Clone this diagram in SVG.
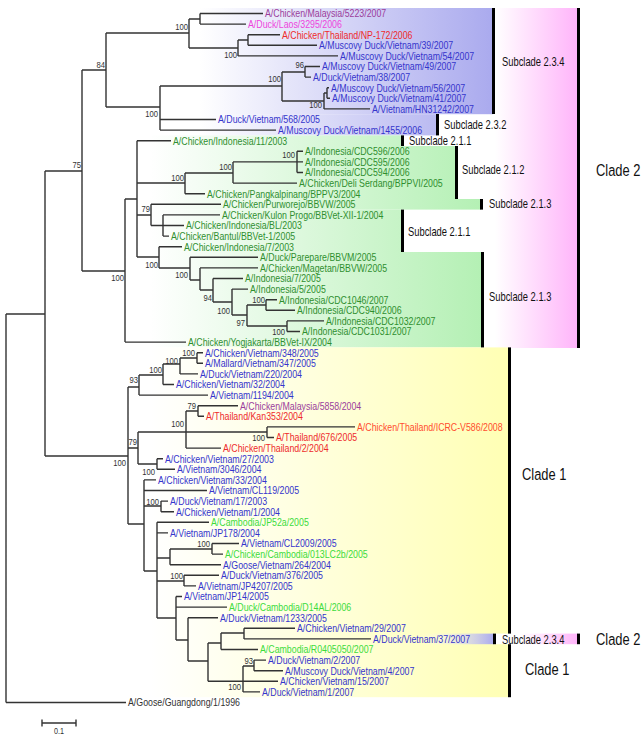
<svg xmlns="http://www.w3.org/2000/svg" width="642" height="736" viewBox="0 0 642 736">
<defs>
<linearGradient id="gBlue" gradientUnits="userSpaceOnUse" x1="200" y1="0" x2="493" y2="0"><stop offset="0" stop-color="#ffffff"/><stop offset="1" stop-color="#aaaaee"/></linearGradient>
<linearGradient id="gBlue2" gradientUnits="userSpaceOnUse" x1="420" y1="0" x2="494" y2="0"><stop offset="0" stop-color="#ffffff" stop-opacity="0"/><stop offset="1" stop-color="#aaaaee"/></linearGradient>
<linearGradient id="gGreen" gradientUnits="userSpaceOnUse" x1="150" y1="0" x2="482" y2="0"><stop offset="0" stop-color="#ffffff"/><stop offset="1" stop-color="#b4f0b4"/></linearGradient>
<linearGradient id="gYellow" gradientUnits="userSpaceOnUse" x1="150" y1="0" x2="508" y2="0"><stop offset="0" stop-color="#ffffff"/><stop offset="1" stop-color="#ffffb4"/></linearGradient>
<linearGradient id="gPink" gradientUnits="userSpaceOnUse" x1="495" y1="0" x2="578" y2="0"><stop offset="0" stop-color="#ffffff"/><stop offset="1" stop-color="#ffb4fa"/></linearGradient>
<linearGradient id="gPink2" gradientUnits="userSpaceOnUse" x1="520" y1="0" x2="578" y2="0"><stop offset="0" stop-color="#ffffff"/><stop offset="1" stop-color="#ffb4fa"/></linearGradient>
</defs>
<style>
text{font-family:"Liberation Sans",Arial,sans-serif}
.lf{font-size:11px}
.bs{font-size:9px;fill:#333;text-anchor:end}
.cl{font-size:12px;fill:#111}
.cb{font-size:17px;fill:#111}
.b{fill:#3535cc}.g{fill:#2f8f2f}.lg{fill:#3cdc3c}.r{fill:#ee2b2b}.o{fill:#ff4d2e}.p{fill:#9b3d9b}.m{fill:#ee44dd}.k{fill:#333}
.tree{fill:none;stroke:#333;stroke-width:1.4}
.bar{fill:#000}
</style>
<rect width="642" height="736" fill="#fff"/>
<g id="bands">
<rect x="495" y="8" width="83" height="340" fill="url(#gPink)"/>
<rect x="200" y="8" width="293" height="106.2" fill="url(#gBlue)"/>
<rect x="200" y="114.2" width="237" height="21.2" fill="url(#gBlue)"/>
<rect x="150" y="135.4" width="252" height="10.6" fill="url(#gGreen)"/>
<rect x="150" y="146" width="306" height="53" fill="url(#gGreen)"/>
<rect x="150" y="199" width="331" height="10.6" fill="url(#gGreen)"/>
<rect x="150" y="209.6" width="252" height="42.4" fill="url(#gGreen)"/>
<rect x="150" y="252" width="332" height="95.4" fill="url(#gGreen)"/>
<rect x="150" y="347.4" width="358" height="349.8" fill="url(#gYellow)"/>
<rect x="420" y="633.6" width="74" height="10.6" fill="url(#gBlue2)"/>
<rect x="493" y="633.6" width="34" height="10.6" fill="#fff"/>
<rect x="520" y="633.6" width="58" height="10.6" fill="url(#gPink2)"/>
<rect class="bar" x="492" y="8" width="3" height="106"/>
<rect class="bar" x="436" y="114" width="3" height="21.4"/>
<rect class="bar" x="401" y="135.4" width="3" height="10.6"/>
<rect class="bar" x="455" y="146" width="3" height="53"/>
<rect class="bar" x="480" y="199" width="3" height="10.6"/>
<rect class="bar" x="401" y="209.6" width="3" height="42.4"/>
<rect class="bar" x="481" y="252" width="3" height="95.4"/>
<rect class="bar" x="577" y="8" width="3" height="340"/>
<rect class="bar" x="508" y="347.4" width="3" height="286.2"/>
<rect class="bar" x="508" y="644.2" width="3" height="53"/>
<rect class="bar" x="493" y="633.6" width="3" height="10.6"/>
<rect class="bar" x="577" y="633.6" width="3" height="10.6"/>
<text class="cl" transform="translate(502,66) scale(.78,1)">Subclade 2.3.4</text>
<text class="cl" transform="translate(444,129) scale(.78,1)">Subclade 2.3.2</text>
<text class="cl" transform="translate(409,145) scale(.78,1)">Subclade 2.1.1</text>
<text class="cl" transform="translate(462,174) scale(.78,1)">Subclade 2.1.2</text>
<text class="cl" transform="translate(489,208) scale(.78,1)">Subclade 2.1.3</text>
<text class="cl" transform="translate(408,236) scale(.78,1)">Subclade 2.1.1</text>
<text class="cl" transform="translate(489,301) scale(.78,1)">Subclade 2.1.3</text>
<text class="cl" transform="translate(502,644) scale(.78,1)">Subclade 2.3.4</text>
<text class="cb" transform="translate(596,176) scale(.76,1)">Clade 2</text>
<text class="cb" transform="translate(522,480) scale(.76,1)">Clade 1</text>
<text class="cb" transform="translate(596,645) scale(.76,1)">Clade 2</text>
<text class="cb" transform="translate(525,675) scale(.76,1)">Clade 1</text>
</g>
<g id="connectors">
<path class="tree" d="M6,314V702.5M6,314H45M6,702.5H126
M45,171V456M45,171H82M45,456H128
M82,70V271M82,70H106M82,271H125
M106,33V107M106,33H189M106,107H160
M189,19V48M189,19H200M189,48H238
M200,13.5V24.1M200,13.5H263M200,24.1H246
M238,40V55.9M238,40H248M238,55.9H338
M248,34.7V45.3M248,34.7H280M248,45.3H317
M160,86V130.1M160,86H282M160,119.5H216M160,130.1H276
M282,72V101M282,72H305M282,101H324
M305,66.5V77.1M305,66.5H320M305,77.1H311
M324,93V108.9M324,93H327M324,108.9H370
M327,87.7V98.3M327,87.7H329M327,98.3H330
M125,199V342.1M125,199H137M125,342.1H186
M137,140.7V257M137,140.7H171M137,183H185M137,215H151M137,257H159
M185,173V193.7M185,173H233M185,193.7H205
M233,161.9V183.1M233,161.9H297M233,183.1H297
M297,151.3V172.5M297,151.3H303M297,161.9H303M297,172.5H303
M151,204.3V225.5M151,204.3H221M151,225.5H163
M163,214.9V236.1M163,214.9H220M163,225.5H184M163,236.1H169
M159,246.7V268M159,246.7H182M159,268H190
M190,257.3V280M190,257.3H258M190,280H200
M200,267.9V290M200,267.9H258M200,290H213
M213,278.5V302M213,278.5H243M213,302H232
M232,289.1V315M232,289.1H248M232,315H247
M247,305V326M247,305H266M247,326H287
M266,299.7V310.3M266,299.7H277M266,310.3H295
M287,320.9V331.5M287,320.9H324M287,331.5H300
M128,387V524M128,387H139M128,448H138M128,524H144
M139,375V395.1M139,375H163M139,395.1H208
M163,364V384.5M163,364H180M163,384.5H174
M180,358V373.9M180,358H197M180,373.9H198
M197,352.7V363.3M197,352.7H203M197,363.3H203
M138,432V464M138,432H186M138,464H157
M186,411V448.1M186,411H198M186,432H267M186,448.1H221
M198,405.7V416.3M198,405.7H238M198,416.3H204
M267,426.9V437.5M267,426.9H355M267,437.5H274
M157,458.7V469.3M157,458.7H163M157,469.3H175
M144,479.9V571M144,479.9H156M144,490.5H207M144,506H161M144,571H157
M161,501.1V511.7M161,501.1H168M161,511.7H174
M157,522.3V618M157,522.3H209M157,532.9H168M157,558H170M157,581H184M157,618H176
M170,549V564.7M170,549H212M170,564.7H221
M212,543.5V554.1M212,543.5H239M212,554.1H223
M184,575.3V585.9M184,575.3H219M184,585.9H196
M176,596.5V640M176,596.5H182M176,607.1H227M176,640H188
M188,617.7V661M188,617.7H218M188,661H208
M208,643V681.3M208,643H221M208,681.3H243
M221,633V649.5M221,633H244M221,649.5H258
M244,628.3V638.9M244,628.3H295M244,638.9H371
M243,666V691.9M243,666H254M243,681.3H278M243,691.9H260
M254,660.1V670.7M254,660.1H266M254,670.7H283"/>
</g>
<g id="support">
<text class="bs" transform="translate(188,30) scale(.85,1)">100</text>
<text class="bs" transform="translate(237,58) scale(.85,1)">100</text>
<text class="bs" transform="translate(304,68) scale(.85,1)">96</text>
<text class="bs" transform="translate(281,82) scale(.85,1)">100</text>
<text class="bs" transform="translate(322,107.5) scale(.85,1)">100</text>
<text class="bs" transform="translate(158,117) scale(.85,1)">100</text>
<text class="bs" transform="translate(105,68) scale(.85,1)">84</text>
<text class="bs" transform="translate(81,168) scale(.85,1)">75</text>
<text class="bs" transform="translate(295,158) scale(.85,1)">100</text>
<text class="bs" transform="translate(232,170) scale(.85,1)">100</text>
<text class="bs" transform="translate(184,181) scale(.85,1)">100</text>
<text class="bs" transform="translate(150,212) scale(.85,1)">79</text>
<text class="bs" transform="translate(158,268) scale(.85,1)">100</text>
<text class="bs" transform="translate(188,278) scale(.85,1)">100</text>
<text class="bs" transform="translate(212,301) scale(.85,1)">94</text>
<text class="bs" transform="translate(230,314) scale(.85,1)">100</text>
<text class="bs" transform="translate(265,303) scale(.85,1)">100</text>
<text class="bs" transform="translate(245,326) scale(.85,1)">97</text>
<text class="bs" transform="translate(285,335) scale(.85,1)">100</text>
<text class="bs" transform="translate(124,281) scale(.85,1)">100</text>
<text class="bs" transform="translate(195,356) scale(.85,1)">100</text>
<text class="bs" transform="translate(178,364) scale(.85,1)">100</text>
<text class="bs" transform="translate(162,373) scale(.85,1)">100</text>
<text class="bs" transform="translate(138,383) scale(.85,1)">93</text>
<text class="bs" transform="translate(196,409) scale(.85,1)">79</text>
<text class="bs" transform="translate(184,427) scale(.85,1)">100</text>
<text class="bs" transform="translate(265,440.5) scale(.85,1)">100</text>
<text class="bs" transform="translate(137,445) scale(.85,1)">79</text>
<text class="bs" transform="translate(126,466) scale(.85,1)">100</text>
<text class="bs" transform="translate(155,475) scale(.85,1)">100</text>
<text class="bs" transform="translate(159,505) scale(.85,1)">100</text>
<text class="bs" transform="translate(210,547) scale(.85,1)">100</text>
<text class="bs" transform="translate(183,579) scale(.85,1)">100</text>
<text class="bs" transform="translate(253,664) scale(.85,1)">93</text>
<text class="bs" transform="translate(241,690) scale(.85,1)">100</text>
</g>
<g id="leaves" class="lf">
<g id="n1"><text class="p" transform="translate(265,17.3) scale(.8,1)">A/Chicken/Malaysia/5223/2007</text></g>
<g id="n2"><text class="m" transform="translate(248,27.9) scale(.8,1)">A/Duck/Laos/3295/2006</text></g>
<g id="n3"><text class="r" transform="translate(282,38.5) scale(.8,1)">A/Chicken/Thailand/NP-172/2006</text></g>
<g id="n4"><text class="b" transform="translate(319,49.1) scale(.8,1)">A/Muscovy Duck/Vietnam/39/2007</text></g>
<g id="n5"><text class="b" transform="translate(340,59.7) scale(.8,1)">A/Muscovy Duck/Vietnam/54/2007</text></g>
<g id="n6"><text class="b" transform="translate(322,70.3) scale(.8,1)">A/Muscovy Duck/Vietnam/49/2007</text></g>
<g id="n7"><text class="b" transform="translate(313,80.9) scale(.8,1)">A/Duck/Vietnam/38/2007</text></g>
<g id="n8"><text class="b" transform="translate(331,91.5) scale(.8,1)">A/Muscovy Duck/Vietnam/56/2007</text></g>
<g id="n9"><text class="b" transform="translate(332,102.1) scale(.8,1)">A/Muscovy Duck/Vietnam/41/2007</text></g>
<g id="n10"><text class="b" transform="translate(372,112.7) scale(.8,1)">A/Vietnam/HN31242/2007</text></g>
<g id="n11"><text class="b" transform="translate(218,123.3) scale(.8,1)">A/Duck/Vietnam/568/2005</text></g>
<g id="n12"><text class="b" transform="translate(278,133.9) scale(.8,1)">A/Muscovy Duck/Vietnam/1455/2006</text></g>
<g id="n13"><text class="g" transform="translate(173,144.5) scale(.8,1)">A/Chicken/Indonesia/11/2003</text></g>
<g id="n14"><text class="g" transform="translate(305,155.1) scale(.8,1)">A/Indonesia/CDC596/2006</text></g>
<g id="n15"><text class="g" transform="translate(305,165.7) scale(.8,1)">A/Indonesia/CDC595/2006</text></g>
<g id="n16"><text class="g" transform="translate(305,176.3) scale(.8,1)">A/Indonesia/CDC594/2006</text></g>
<g id="n17"><text class="g" transform="translate(299,186.9) scale(.8,1)">A/Chicken/Deli Serdang/BPPVI/2005</text></g>
<g id="n18"><text class="g" transform="translate(207,197.5) scale(.8,1)">A/Chicken/Pangkalpinang/BPPV3/2004</text></g>
<g id="n19"><text class="g" transform="translate(223,208.1) scale(.8,1)">A/Chicken/Purworejo/BBVW/2005</text></g>
<g id="n20"><text class="g" transform="translate(222,218.7) scale(.8,1)">A/Chicken/Kulon Progo/BBVet-XII-1/2004</text></g>
<g id="n21"><text class="g" transform="translate(186,229.3) scale(.8,1)">A/Chicken/Indonesia/BL/2003</text></g>
<g id="n22"><text class="g" transform="translate(171,239.9) scale(.8,1)">A/Chicken/Bantul/BBVet-1/2005</text></g>
<g id="n23"><text class="g" transform="translate(184,250.5) scale(.8,1)">A/Chicken/Indonesia/7/2003</text></g>
<g id="n24"><text class="g" transform="translate(260,261.1) scale(.8,1)">A/Duck/Parepare/BBVM/2005</text></g>
<g id="n25"><text class="g" transform="translate(260,271.7) scale(.8,1)">A/Chicken/Magetan/BBVW/2005</text></g>
<g id="n26"><text class="g" transform="translate(245,282.3) scale(.8,1)">A/Indonesia/7/2005</text></g>
<g id="n27"><text class="g" transform="translate(250,292.9) scale(.8,1)">A/Indonesia/5/2005</text></g>
<g id="n28"><text class="g" transform="translate(279,303.5) scale(.8,1)">A/Indonesia/CDC1046/2007</text></g>
<g id="n29"><text class="g" transform="translate(297,314.1) scale(.8,1)">A/Indonesia/CDC940/2006</text></g>
<g id="n30"><text class="g" transform="translate(326,324.7) scale(.8,1)">A/Indonesia/CDC1032/2007</text></g>
<g id="n31"><text class="g" transform="translate(302,335.3) scale(.8,1)">A/Indonesia/CDC1031/2007</text></g>
<g id="n32"><text class="g" transform="translate(188,345.9) scale(.8,1)">A/Chicken/Yogjakarta/BBVet-IX/2004</text></g>
<g id="n33"><text class="b" transform="translate(205,356.5) scale(.8,1)">A/Chicken/Vietnam/348/2005</text></g>
<g id="n34"><text class="b" transform="translate(205,367.1) scale(.8,1)">A/Mallard/Vietnam/347/2005</text></g>
<g id="n35"><text class="b" transform="translate(200,377.7) scale(.8,1)">A/Duck/Vietnam/220/2004</text></g>
<g id="n36"><text class="b" transform="translate(176,388.3) scale(.8,1)">A/Chicken/Vietnam/32/2004</text></g>
<g id="n37"><text class="b" transform="translate(210,398.9) scale(.8,1)">A/Vietnam/1194/2004</text></g>
<g id="n38"><text class="p" transform="translate(240,409.5) scale(.8,1)">A/Chicken/Malaysia/5858/2004</text></g>
<g id="n39"><text class="r" transform="translate(206,420.1) scale(.8,1)">A/Thailand/Kan353/2004</text></g>
<g id="n40"><text class="o" transform="translate(357,430.7) scale(.8,1)">A/Chicken/Thailand/ICRC-V586/2008</text></g>
<g id="n41"><text class="r" transform="translate(276,441.3) scale(.8,1)">A/Thailand/676/2005</text></g>
<g id="n42"><text class="r" transform="translate(223,451.9) scale(.8,1)">A/Chicken/Thailand/2/2004</text></g>
<g id="n43"><text class="b" transform="translate(165,462.5) scale(.8,1)">A/Chicken/Vietnam/27/2003</text></g>
<g id="n44"><text class="b" transform="translate(177,473.1) scale(.8,1)">A/Vietnam/3046/2004</text></g>
<g id="n45"><text class="b" transform="translate(158,483.7) scale(.8,1)">A/Chicken/Vietnam/33/2004</text></g>
<g id="n46"><text class="b" transform="translate(209,494.3) scale(.8,1)">A/Vietnam/CL119/2005</text></g>
<g id="n47"><text class="b" transform="translate(170,504.9) scale(.8,1)">A/Duck/Vietnam/17/2003</text></g>
<g id="n48"><text class="b" transform="translate(176,515.5) scale(.8,1)">A/Chicken/Vietnam/1/2004</text></g>
<g id="n49"><text class="lg" transform="translate(211,526.1) scale(.8,1)">A/Cambodia/JP52a/2005</text></g>
<g id="n50"><text class="b" transform="translate(170,536.7) scale(.8,1)">A/Vietnam/JP178/2004</text></g>
<g id="n51"><text class="b" transform="translate(241,547.3) scale(.8,1)">A/Vietnam/CL2009/2005</text></g>
<g id="n52"><text class="lg" transform="translate(225,557.9) scale(.8,1)">A/Chicken/Cambodia/013LC2b/2005</text></g>
<g id="n53"><text class="b" transform="translate(223,568.5) scale(.8,1)">A/Goose/Vietnam/264/2004</text></g>
<g id="n54"><text class="b" transform="translate(221,579.1) scale(.8,1)">A/Duck/Vietnam/376/2005</text></g>
<g id="n55"><text class="b" transform="translate(198,589.7) scale(.8,1)">A/Vietnam/JP4207/2005</text></g>
<g id="n56"><text class="b" transform="translate(184,600.3) scale(.8,1)">A/Vietnam/JP14/2005</text></g>
<g id="n57"><text class="lg" transform="translate(229,610.9) scale(.8,1)">A/Duck/Cambodia/D14AL/2006</text></g>
<g id="n58"><text class="b" transform="translate(220,621.5) scale(.8,1)">A/Duck/Vietnam/1233/2005</text></g>
<g id="n59"><text class="b" transform="translate(297,632.1) scale(.8,1)">A/Chicken/Vietnam/29/2007</text></g>
<g id="n60"><text class="b" transform="translate(373,642.7) scale(.8,1)">A/Duck/Vietnam/37/2007</text></g>
<g id="n61"><text class="lg" transform="translate(260,653.3) scale(.8,1)">A/Cambodia/R0405050/2007</text></g>
<g id="n62"><text class="b" transform="translate(268,663.9) scale(.8,1)">A/Duck/Vietnam/2/2007</text></g>
<g id="n63"><text class="b" transform="translate(285,674.5) scale(.8,1)">A/Muscovy Duck/Vietnam/4/2007</text></g>
<g id="n64"><text class="b" transform="translate(280,685.1) scale(.8,1)">A/Chicken/Vietnam/15/2007</text></g>
<g id="n65"><text class="b" transform="translate(262,695.7) scale(.8,1)">A/Duck/Vietnam/1/2007</text></g>
<g id="n66"><text class="k" transform="translate(128,706.3) scale(.8,1)">A/Goose/Guangdong/1/1996</text></g>
</g>
<g id="scalebar">
<path class="tree" d="M42,723H76M42,719.5V726.5M76,719.5V726.5"/>
<text class="bs" style="text-anchor:middle;font-size:8.5px" transform="translate(59,734) scale(.85,1)">0.1</text>
</g>
</svg>
